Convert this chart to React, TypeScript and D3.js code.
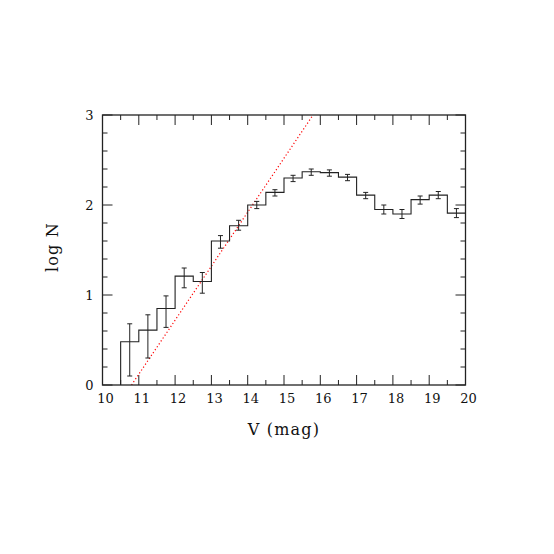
import React from "react";
import * as d3 from "d3";

const binStarts = [10.5, 11, 11.5, 12, 12.5, 13, 13.5, 14, 14.5, 15, 15.5, 16, 16.5, 17, 17.5, 18, 18.5, 19, 19.5];
const logN = [0.48, 0.61, 0.85, 1.21, 1.15, 1.60, 1.77, 2.00, 2.14, 2.30, 2.37, 2.36, 2.31, 2.11, 1.95, 1.90, 2.06, 2.11, 1.91];
const errLow = [0.10, 0.30, 0.64, 1.08, 1.02, 1.52, 1.72, 1.96, 2.10, 2.26, 2.33, 2.32, 2.27, 2.07, 1.90, 1.85, 2.01, 2.07, 1.86];
const errHigh = [0.68, 0.78, 0.99, 1.30, 1.25, 1.66, 1.83, 2.04, 2.17, 2.33, 2.40, 2.39, 2.34, 2.14, 2.00, 1.95, 2.10, 2.15, 1.96];
const binWidth = 0.5;
const xTickLabels = [10, 11, 12, 13, 14, 15, 16, 17, 18, 19, 20];
const yTickLabels = [0, 1, 2, 3];
const fitSlope = 0.6;
const fitZeroV = 10.8;

const W = 554, H = 554;
const L = 102.5, R = 465.5, T = 115, B = 385;
const FONT = "'DejaVu Serif', serif";

export default function App() {
  const x = d3.scaleLinear().domain([10, 20]).range([L, R]);
  const y = d3.scaleLinear().domain([0, 3]).range([B, T]);

  const pts: [number, number][] = [[binStarts[0], 0]];
  binStarts.forEach((s, i) => pts.push([s, logN[i]]));
  pts.push([binStarts[binStarts.length - 1] + binWidth, logN[logN.length - 1]]);
  const hist = d3.line<[number, number]>().x(d => x(d[0])).y(d => y(d[1])).curve(d3.curveStepAfter)(pts) || "";

  const fitEnd = fitZeroV + 3 / fitSlope;
  const fit = d3.line<[number, number]>().x(d => x(d[0])).y(d => y(d[1]))([
    [fitZeroV, 0],
    [fitEnd, fitSlope * (fitEnd - fitZeroV)],
  ]) || "";

  const xMinor = d3.range(0, 21).map(i => 10 + i * 0.5);
  const yMinor = d3.range(0, 16).map(i => i * 0.2);
  const stroke = "#222";

  return (
    <div style={{ margin: -8 }}>
      <svg width={W} height={H} style={{ display: "block", background: "#fff" }}>
        <defs>
          <clipPath id="plot"><rect x={L} y={T} width={R - L} height={B - T} /></clipPath>
        </defs>
        {xMinor.map((v, i) => {
          const major = Math.abs(v - Math.round(v)) < 1e-6;
          const len = major ? 10 : 5;
          return (
            <g key={"xt" + i} stroke={stroke} strokeWidth={1}>
              <line x1={x(v)} x2={x(v)} y1={B} y2={B - len} />
              <line x1={x(v)} x2={x(v)} y1={T} y2={T + len} />
            </g>
          );
        })}
        {yMinor.map((v, i) => {
          const major = Math.abs(v - Math.round(v)) < 1e-6;
          const len = major ? 10 : 5;
          return (
            <g key={"yt" + i} stroke={stroke} strokeWidth={1}>
              <line x1={L} x2={L + len} y1={y(v)} y2={y(v)} />
              <line x1={R} x2={R - len} y1={y(v)} y2={y(v)} />
            </g>
          );
        })}
        <path d={fit} stroke="red" strokeWidth={1.2} strokeDasharray="1.2,2.3" fill="none" clipPath="url(#plot)" />
        <path d={hist} stroke={stroke} strokeWidth={1.1} fill="none" />
        {binStarts.map((s, i) => {
          const cx = x(s + binWidth / 2);
          return (
            <g key={"e" + i} stroke={stroke} strokeWidth={1}>
              <line x1={cx} x2={cx} y1={y(errLow[i])} y2={y(errHigh[i])} />
              <line x1={cx - 2.5} x2={cx + 2.5} y1={y(errLow[i])} y2={y(errLow[i])} />
              <line x1={cx - 2.5} x2={cx + 2.5} y1={y(errHigh[i])} y2={y(errHigh[i])} />
            </g>
          );
        })}
        <rect x={L} y={T} width={R - L} height={B - T} fill="none" stroke={stroke} strokeWidth={1.3} />
        {xTickLabels.map(v => (
          <text key={"xl" + v} x={x(v) + 3} y={403} textAnchor="middle" fontFamily={FONT} fontSize={13} fill="#111">{v}</text>
        ))}
        {yTickLabels.map(v => (
          <text key={"yl" + v} x={93.5} y={y(v) + 4.7} textAnchor="end" fontFamily={FONT} fontSize={13} fill="#111">{v}</text>
        ))}
        <text x={284} y={435} textAnchor="middle" fontFamily={FONT} fontSize={16} letterSpacing={1.2} fill="#111">V (mag)</text>
        <text transform={`translate(57.5,247) rotate(-90)`} textAnchor="middle" fontFamily={FONT} fontSize={16} letterSpacing={1.2} fill="#111">log N</text>
      </svg>
    </div>
  );
}
